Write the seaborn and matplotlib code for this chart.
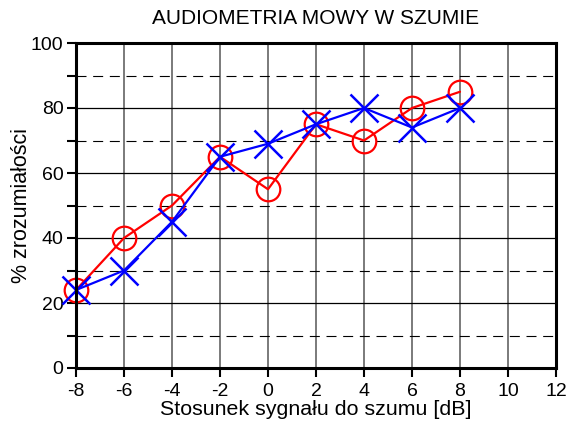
import matplotlib
matplotlib.use("Agg")
import matplotlib.pyplot as plt
import seaborn as sns
import pandas as pd

snr_db = [-8, -6, -4, -2, 0, 2, 4, 6, 8]
red_series = [24, 40, 50, 65, 55, 75, 70, 80, 85]
blue_series = [24, 30, 45, 65, 69, 75, 80, 74, 80]
x_ticks = [-8, -6, -4, -2, 0, 2, 4, 6, 8, 10, 12]
y_ticks = [0, 20, 40, 60, 80, 100]
y_minor = [10, 30, 50, 70, 90]

title = "AUDIOMETRIA MOWY W SZUMIE"
xlabel = "Stosunek sygnału do szumu [dB]"
ylabel = "% zrozumiałości"

sns.set_style("white")
plt.rcParams['font.family'] = ['Liberation Sans', 'DejaVu Sans']
plt.rcParams['text.color'] = 'black'
plt.rcParams['axes.labelcolor'] = 'black'
plt.rcParams['xtick.color'] = 'black'
plt.rcParams['ytick.color'] = 'black'

fig = plt.figure(figsize=(5.76, 4.25), dpi=100)
ax = fig.add_axes([76/576, 1 - 368/425, (556-76)/576, (368-43)/425])

df_r = pd.DataFrame({"x": snr_db, "y": red_series})
df_b = pd.DataFrame({"x": snr_db, "y": blue_series})

sns.lineplot(data=df_r, x="x", y="y", ax=ax, color="#FF0000", lw=1.6,
             marker="o", markersize=17, markerfacecolor="none",
             markeredgecolor="#FF0000", markeredgewidth=1.6, zorder=5,
             clip_on=False)
sns.lineplot(data=df_b, x="x", y="y", ax=ax, color="#0000FF", lw=1.6,
             marker="x", markersize=20, markeredgecolor="#0000FF",
             markeredgewidth=1.8, zorder=6, clip_on=False)

ax.set_xlim(-8, 12)
ax.set_ylim(0, 100)
ax.set_xticks(x_ticks)
ax.set_xticklabels([str(v) for v in x_ticks])
ax.set_yticks(y_ticks)
ax.set_yticks(y_minor, minor=True)

ax.grid(False)
for v in x_ticks[1:-1]:
    ax.axvline(v, color="#707070", lw=1.3, zorder=1)
for v in y_ticks[1:-1]:
    ax.axhline(v, color="black", lw=0.9, zorder=1)
for v in y_minor:
    ax.axhline(v, color="black", lw=0.8, ls=(0, (9, 6)), zorder=1)

for s in ax.spines.values():
    s.set_linewidth(2.2)
    s.set_color("black")
    s.set_visible(True)
    s.set_zorder(7)

ax.tick_params(axis="both", which="both", direction="out", length=6.5, width=1.5,
               labelsize=14, colors="black", pad=2.5)
ax.tick_params(axis="x", which="both", top=False, bottom=True, pad=4.5)
ax.tick_params(axis="y", which="both", left=True, right=False)

ax.set_title(title, fontsize=15, pad=13.5, color="black")
ax.set_xlabel(xlabel, fontsize=15.4, labelpad=0, color="black")
ax.set_ylabel(ylabel, fontsize=15.5, labelpad=-1, color="black")

fig.savefig("out.png", dpi=100)
